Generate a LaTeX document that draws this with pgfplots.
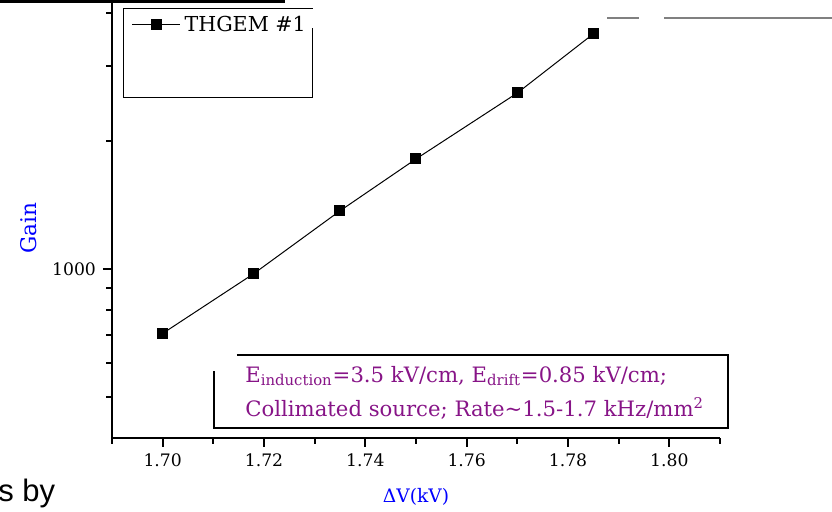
\documentclass[border=0pt]{standalone}
\usepackage{pgfplots}
\pgfplotsset{compat=1.18}
\usepackage{fontspec}
\setmainfont{DejaVu Serif}
\newfontfamily\arialfont{Liberation Sans}
\definecolor{annpurple}{RGB}{135,20,135}
\begin{document}
\begin{tikzpicture}
\begin{axis}[
  at={(0pt,0pt)}, anchor=south west,
  scale only axis, width=304pt, height=219pt,
  xmin=1.69, xmax=1.81, ymode=log, ymin=400, ymax=4295,
  axis x line*=bottom, axis y line*=left,
  axis line style={-, line width=1pt},
  every outer x axis line/.append style={-},
  every outer y axis line/.append style={-},
  xtick={1.70,1.72,1.74,1.76,1.78,1.80},
  minor xtick={1.69,1.71,1.73,1.75,1.77,1.79,1.81},
  ytick={1000}, yticklabels={1000},
  minor ytick={500,600,700,800,900,2000,3000,4000},
  tick align=outside,
  major tick length=4.5pt, minor tick length=2.8pt,
  every tick/.style={black, line width=0.9pt},
  /pgf/number format/assume math mode=true,
  xticklabel style={/pgf/number format/.cd, fixed, fixed zerofill, precision=2, assume math mode=true},
  ticklabel style={font=\fontsize{8.6}{10}\selectfont},
  xlabel={ΔV(kV)},
  xlabel style={at={(axis description cs:0.5,-0.148)}, anchor=base, text=blue, font=\fontsize{9.3}{11}\selectfont},
  ylabel={Gain},
  ylabel style={at={(axis description cs:-0.1365,0.479)}, anchor=center, text=blue, font=\fontsize{10.8}{13}\selectfont},
  legend style={draw=none, fill=none, at={(axis description cs:0.022,0.943)}, anchor=west, font=\fontsize{10.3}{12}\selectfont},
  legend image code/.code={\draw[mark repeat=2,mark phase=2] plot coordinates {(0cm,0cm)(0.42cm,0cm)(0.84cm,0cm)};},
]
\addplot[black, line width=0.5pt, mark=square*, mark size=2.5pt, mark options={solid}]
  coordinates {(1.700,705) (1.718,975) (1.735,1370) (1.750,1815) (1.770,2595) (1.785,3575)};
\addlegendentry{THGEM \#1}
\end{axis}
% legend frame
\draw[line width=0.5pt] (6pt,215pt) -- (100.5pt,215pt);
\draw[line width=0.5pt] (100.5pt,205pt) -- (100.5pt,170.5pt) -- (6pt,170.5pt) -- (6pt,215pt);
% annotation box
\draw[line width=0.6pt] (62.5pt,41.5pt) -- (308pt,41.5pt) -- (308pt,5pt) -- (51pt,5pt) -- (51pt,33.5pt);
\node[anchor=base west, inner sep=0pt, text=annpurple, font=\fontsize{10.6}{13}\selectfont] at (66.5pt,28pt)
  {E\textsubscript{induction}=3.5 kV/cm, E\textsubscript{drift}=0.85 kV/cm;};
\node[anchor=base west, inner sep=0pt, text=annpurple, font=\fontsize{10.6}{13}\selectfont] at (66.5pt,11pt)
  {Collimated source; Rate\textasciitilde 1.5-1.7 kHz/mm\textsuperscript{2}};
% slide fragments
\draw[line width=1.6pt] (-56pt,218.2pt) -- (86.5pt,218.2pt);
\draw[gray, line width=0.6pt] (247.5pt,210pt) -- (263.5pt,210pt);
\draw[gray, line width=0.6pt] (276pt,210pt) -- (360pt,210pt);
\node[anchor=base west, inner sep=0pt, font=\arialfont\fontsize{15.5}{18}\selectfont] at (-57pt,-31.5pt) {s by};
\pgfresetboundingbox
\path (-56pt,-36.5pt) rectangle (360pt,219pt);
\end{tikzpicture}
\end{document}
